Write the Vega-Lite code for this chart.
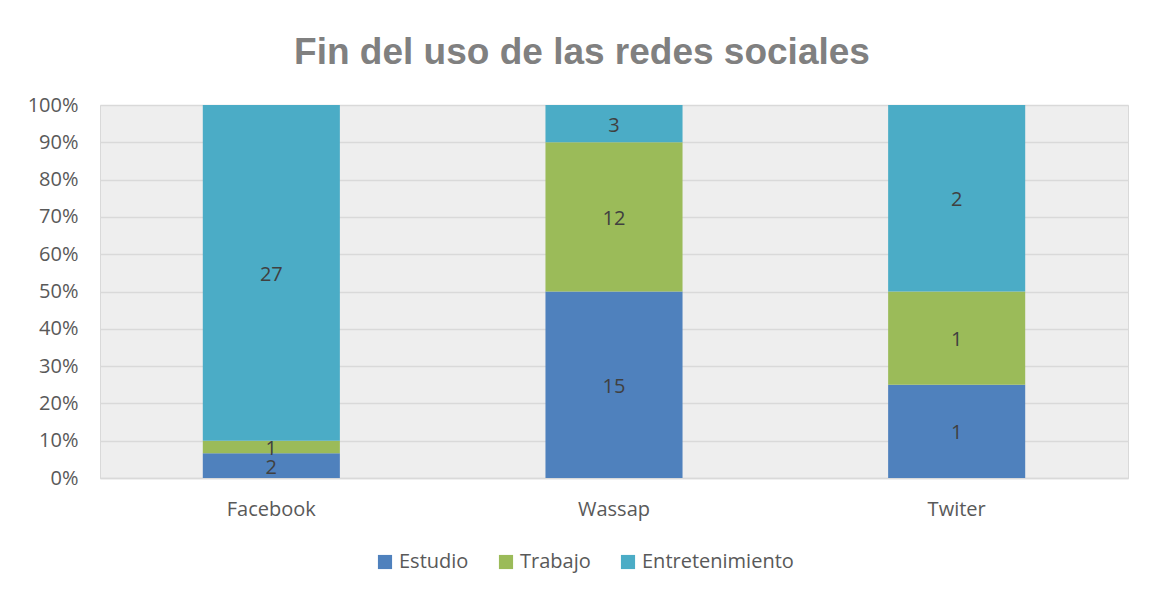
{
  "$schema": "https://vega.github.io/schema/vega-lite/v6.json",
  "autosize": "none",
  "width": 1028,
  "height": 373,
  "padding": {"left": 100, "top": 105, "right": 23, "bottom": 119},
  "background": "white",
  "title": {
    "text": "Fin del uso de las redes sociales",
    "font": "Liberation Sans",
    "fontSize": 37,
    "fontWeight": "bold",
    "color": "#808080",
    "anchor": "middle",
    "baseline": "alphabetic",
    "offset": -6,
    "dx": -32
  },
  "data": {
    "values": [
      {"red": "Facebook", "uso": "Estudio", "cantidad": 2},
      {"red": "Facebook", "uso": "Trabajo", "cantidad": 1},
      {"red": "Facebook", "uso": "Entretenimiento", "cantidad": 27},
      {"red": "Wassap", "uso": "Estudio", "cantidad": 15},
      {"red": "Wassap", "uso": "Trabajo", "cantidad": 12},
      {"red": "Wassap", "uso": "Entretenimiento", "cantidad": 3},
      {"red": "Twiter", "uso": "Estudio", "cantidad": 1},
      {"red": "Twiter", "uso": "Trabajo", "cantidad": 1},
      {"red": "Twiter", "uso": "Entretenimiento", "cantidad": 2}
    ]
  },
  "transform": [
    {"calculate": "indexof(['Estudio','Trabajo','Entretenimiento'], datum.uso)", "as": "orden"}
  ],
  "encoding": {
    "x": {
      "field": "red",
      "type": "nominal",
      "sort": ["Facebook", "Wassap", "Twiter"],
      "scale": {"paddingInner": 0.6, "paddingOuter": 0.3},
      "axis": {
        "title": null,
        "labelAngle": 0,
        "labelFont": "Open Sans",
        "labelFontSize": 20,
        "labelColor": "#595959",
        "labelPadding": 21,
        "ticks": false,
        "domainColor": "#d9d9d9",
        "domainWidth": 1.5
      }
    },
    "y": {
      "field": "cantidad",
      "type": "quantitative",
      "stack": "normalize",
      "scale": {"domain": [0, 1]},
      "axis": {
        "title": null,
        "format": ".0%",
        "values": [0, 0.1, 0.2, 0.3, 0.4, 0.5, 0.6, 0.7, 0.8, 0.9, 1],
        "labelFont": "Open Sans",
        "labelFontSize": 20,
        "labelColor": "#595959",
        "labelPadding": 22,
        "ticks": false,
        "domain": false,
        "gridColor": "#d9d9d9",
        "gridWidth": 1.5
      }
    },
    "order": {"field": "orden", "type": "quantitative", "sort": "ascending"}
  },
  "layer": [
    {
      "mark": {"type": "bar"},
      "encoding": {
        "color": {
          "field": "uso",
          "type": "nominal",
          "sort": ["Estudio", "Trabajo", "Entretenimiento"],
          "scale": {
            "domain": ["Estudio", "Trabajo", "Entretenimiento"],
            "range": ["#4f81bd", "#9bbb59", "#4bacc6"]
          },
          "legend": {
            "title": null,
            "orient": "none",
            "direction": "horizontal",
            "legendX": 275,
            "legendY": 447,
            "symbolType": "square",
            "symbolSize": 200,
            "symbolStrokeWidth": 0,
            "labelFont": "Open Sans",
            "labelFontSize": 20,
            "labelColor": "#595959",
            "labelOffset": 4,
            "columnPadding": 27
          }
        }
      }
    },
    {
      "mark": {"type": "text", "font": "Open Sans", "fontSize": 20, "color": "#404040", "baseline": "middle", "dy": 2},
      "encoding": {
        "y": {"field": "cantidad", "type": "quantitative", "stack": "normalize", "bandPosition": 0.5},
        "text": {"field": "cantidad", "type": "quantitative"},
        "detail": {"field": "uso"}
      }
    }
  ],
  "config": {
    "view": {"fill": "#eeeeee", "stroke": "#d9d9d9"}
  }
}
